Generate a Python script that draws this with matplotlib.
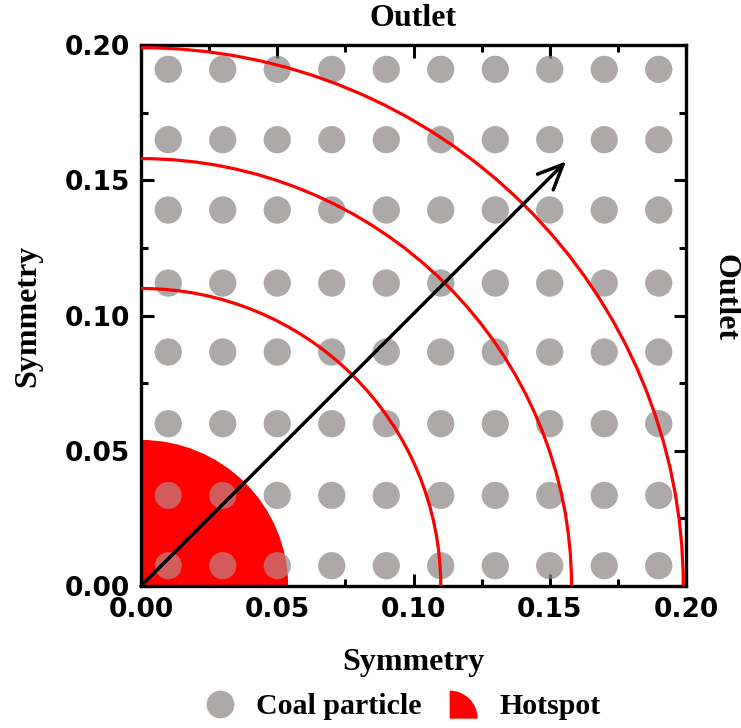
import numpy as np
import matplotlib
matplotlib.use("Agg")
import matplotlib.pyplot as plt
from matplotlib.patches import Wedge, Arc
from matplotlib.legend_handler import HandlerPatch
from matplotlib.lines import Line2D

# ---- data ----
particle_x = [0.01, 0.03, 0.05, 0.07, 0.09, 0.11, 0.13, 0.15, 0.17, 0.19]
particle_y = [0.0075, 0.0335, 0.060, 0.0865, 0.112, 0.139, 0.165, 0.191]
hotspot_radius = 0.054
arc_radii = [0.110, 0.158, 0.199]
arrow_start = (0.0, 0.0)
arrow_end = (0.156, 0.157)
ticks = [0.00, 0.05, 0.10, 0.15, 0.20]
tick_labels = ["0.00", "0.05", "0.10", "0.15", "0.20"]
legend_labels = ["Coal particle", "Hotspot"]

gray = "#ADA9A8"
serif = ["Liberation Serif", "DejaVu Serif"]
sans = ["DejaVu Sans"]

fig = plt.figure(figsize=(7.41, 7.28), dpi=100)
ax = fig.add_axes([141/741, 1-586/728, 545/741, 541/728])

PX, PY = np.meshgrid(particle_x, particle_y)
ax.scatter(PX.ravel(), PY.ravel(), s=380, color=gray, edgecolors="none", zorder=1)
ax.add_patch(Wedge((0, 0), hotspot_radius, 0, 90, facecolor="#FF0000", edgecolor="none", zorder=2))
ax.scatter(PX.ravel(), PY.ravel(), s=380, color=gray, alpha=0.55, edgecolors="none", zorder=3)
for r in arc_radii:
    ax.add_patch(Arc((0, 0), 2*r, 2*r, theta1=0, theta2=90, color="#FF0000", lw=2.3, zorder=4))
ax.annotate("", xy=arrow_end, xytext=arrow_start,
            arrowprops=dict(arrowstyle="->,head_length=0.9,head_width=0.4", color="black",
                            lw=2.5, shrinkA=0, shrinkB=0, mutation_scale=20), zorder=5)

ax.set_xlim(0, 0.2)
ax.set_ylim(0, 0.2)
ax.set_xticks(ticks)
ax.set_yticks(ticks)
ax.set_xticklabels(tick_labels)
ax.set_yticklabels(tick_labels)
ax.set_xticks([0.025, 0.075, 0.125, 0.175], minor=True)
ax.set_yticks([0.025, 0.075, 0.125, 0.175], minor=True)
ax.tick_params(which="both", direction="in", top=True, right=True, width=2.2)
ax.tick_params(which="major", length=9, pad=8)
ax.tick_params(which="minor", length=5)
for lab in ax.get_xticklabels() + ax.get_yticklabels():
    lab.set_fontfamily(sans)
    lab.set_fontweight("bold")
    lab.set_fontsize(19)
for sp in ax.spines.values():
    sp.set_linewidth(2.4)

ax.set_xlabel("Symmetry", fontfamily=serif, fontweight="bold", fontsize=23, labelpad=18)
ax.set_ylabel("Symmetry", fontfamily=serif, fontweight="bold", fontsize=23, labelpad=16)
fig.text(413/741, 1-18/728, "Outlet", ha="center", va="center", fontfamily=serif,
         fontweight="bold", fontsize=23)
fig.text(725/741, 1-298/728, "Outlet", ha="center", va="center", rotation=-90,
         fontfamily=serif, fontweight="bold", fontsize=23)

class HandlerQuarter(HandlerPatch):
    def create_artists(self, legend, orig_handle, xdescent, ydescent, width, height, fontsize, trans):
        r = 20.2
        cx = -xdescent + 0.7
        cy = -ydescent - 3.0
        p = Wedge((cx, cy), r, 0, 90, facecolor="#FF0000", edgecolor="none", transform=trans)
        return [p]

h1 = Line2D([], [], marker="o", ls="none", markersize=20, color=gray, markeredgewidth=0)
h2 = Wedge((0, 0), 1, 0, 90, facecolor="#FF0000")
fig.legend([h1, h2], legend_labels, loc="center", bbox_to_anchor=(0.544, 1-707/728),
           ncol=2, frameon=False, handler_map={Wedge: HandlerQuarter()},
           prop=dict(family=serif, weight="bold", size=21.5), columnspacing=0.9,
           handletextpad=0.7, handlelength=1.0)

fig.savefig("out.png", dpi=100)
